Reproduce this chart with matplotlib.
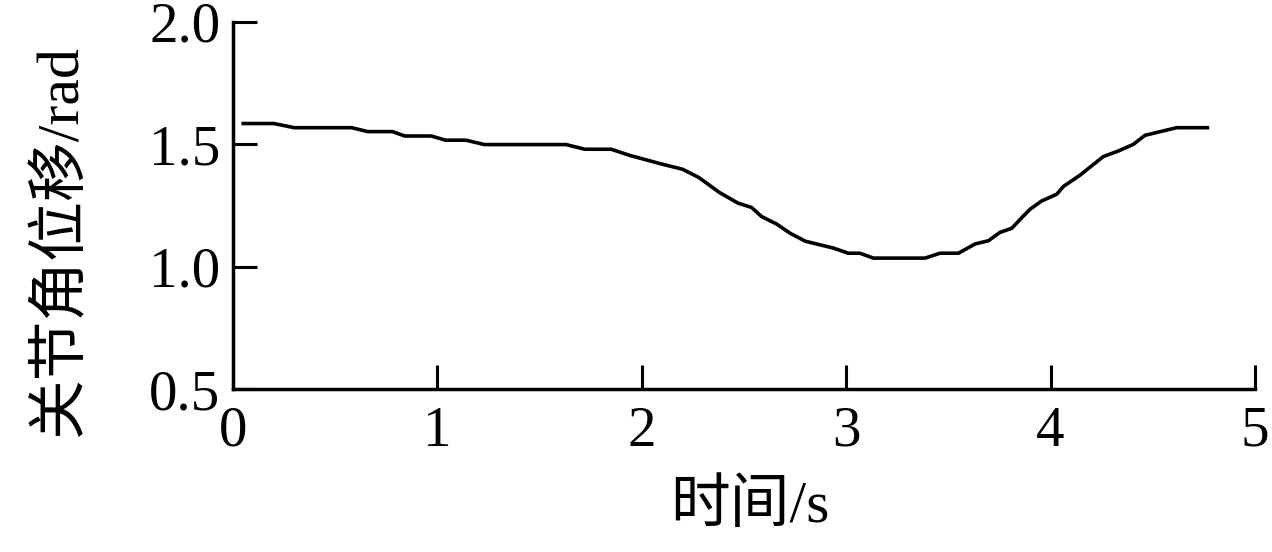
import matplotlib
matplotlib.use("Agg")
import matplotlib.pyplot as plt

# data
time_s = [0.05, 0.20, 0.30, 0.58, 0.66, 0.78, 0.84, 0.97, 1.04, 1.14, 1.23, 1.63,
          1.72, 1.85, 1.94, 2.09, 2.20, 2.28, 2.38, 2.47, 2.537, 2.586, 2.66, 2.725,
          2.80, 2.937, 3.01, 3.067, 3.133, 3.386, 3.459, 3.549, 3.631, 3.696, 3.752,
          3.81, 3.86, 3.90, 3.957, 4.03, 4.063, 4.144, 4.258, 4.332, 4.405, 4.462,
          4.617, 4.767]
angle_rad = [1.585, 1.585, 1.568, 1.568, 1.552, 1.552, 1.534, 1.534, 1.517, 1.517,
             1.499, 1.499, 1.480, 1.480, 1.455, 1.421, 1.398, 1.364, 1.303, 1.260,
             1.242, 1.205, 1.174, 1.137, 1.104, 1.076, 1.055, 1.055, 1.035, 1.035,
             1.055, 1.055, 1.093, 1.106, 1.140, 1.157, 1.201, 1.235, 1.269, 1.296,
             1.328, 1.374, 1.450, 1.473, 1.500, 1.537, 1.568, 1.568]
x_ticks = [0, 1, 2, 3, 4, 5]
y_ticks = [0.5, 1.0, 1.5, 2.0]
x_ticklabels = ["0", "1", "2", "3", "4", "5"]
y_ticklabels = ["0.5", "1.0", "1.5", "2.0"]
x_label = "时间/s"
y_label = "关节角位移/rad"

fonts = ["Liberation Serif", "Noto Sans CJK SC", "DejaVu Sans"]
plt.rcParams["font.family"] = fonts

W, H = 1272, 552
fig = plt.figure(figsize=(W / 100, H / 100), dpi=100)
ax = fig.add_axes([233 / W, 1 - 389 / H, (1255 - 233) / W, (389 - 22) / H])

ax.plot(time_s, angle_rad, color="black", lw=2.6, solid_joinstyle="round")

ax.set_xlim(0, 5)
ax.set_ylim(0.5, 2.0)
ax.set_xticks(x_ticks)
ax.set_xticklabels(x_ticklabels)
ax.set_yticks(y_ticks)
ax.set_yticklabels(y_ticklabels)

for s in ["top", "right"]:
    ax.spines[s].set_visible(False)
for s in ["left", "bottom"]:
    ax.spines[s].set_linewidth(2.5)

ax.tick_params(direction="in", length=17.5, width=2.2, labelsize=41, color="black")
ax.tick_params(axis="y", pad=9)
ax.tick_params(axis="x", pad=12)

ax.set_xlabel(x_label, fontsize=43, va="center", fontweight="light")
ax.xaxis.set_label_coords(0.506, -0.322)
ax.set_ylabel(y_label, fontsize=43, va="center", fontweight="light")
ax.yaxis.set_label_coords(-0.168, 0.404)

fig.savefig("out.png", dpi=100)
